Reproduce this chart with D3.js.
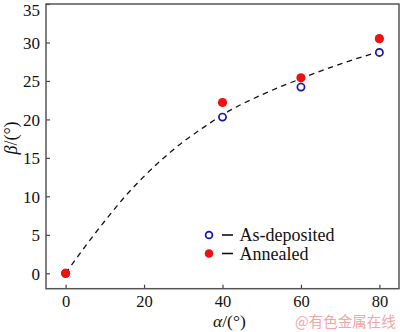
<!DOCTYPE html>
<html><head><meta charset="utf-8">
<script src="https://cdn.jsdelivr.net/npm/d3@7"></script>
<style>body{margin:0;background:#fff}svg{display:block}</style>
</head><body>
<svg id="c" width="400" height="332"></svg>
<script>
const alphaVals = [0, 40, 60, 80];
const asDeposited = [0, 20.3, 24.2, 28.7];
const annealed = [0, 22.2, 25.4, 30.5];
const curveAlpha = [0, 5, 10, 15, 20, 25, 30, 35, 40, 50, 60, 70, 80];
const curveBeta = [0, 3.5, 6.8, 9.9, 12.6, 15.0, 17.1, 18.9, 20.6, 23.2, 25.3, 27.2, 28.8];
const xTicks = [0, 20, 40, 60, 80];
const yTicks = [0, 5, 10, 15, 20, 25, 30, 35];
const seriesNames = ["As-deposited", "Annealed"];

const svg = d3.select("#c");
const L = 46, R = 399, T = 4, B = 288.7;
const x = d3.scaleLinear().domain([-5, 85]).range([L, R]);
const y = d3.scaleLinear().domain([-2, 35]).range([B, T]);
const font = "'Liberation Serif','Times New Roman',serif";

// axes with inward ticks
const xa = svg.append("g").attr("transform", `translate(0,${B})`)
  .call(d3.axisBottom(x).tickValues(xTicks).tickSize(-4).tickPadding(7).tickFormat(d3.format("d")));
const ya = svg.append("g").attr("transform", `translate(${L},0)`)
  .call(d3.axisLeft(y).tickValues(yTicks).tickSize(-4).tickPadding(6).tickFormat(d3.format("d")));
[xa, ya].forEach(g => {
  g.select(".domain").remove();
  g.selectAll(".tick line").attr("stroke", "#444").attr("stroke-width", 1.2);
  g.selectAll(".tick text").attr("font-family", font).attr("font-size", 17).attr("fill", "#111");
});
xa.selectAll(".tick text").attr("dy", "0.71em").attr("font-size", 16.5);
ya.selectAll(".tick text").attr("dy", "0.34em");
ya.selectAll(".tick").filter(d => d === 35).select("text").attr("dy", "0.68em");

// frame
svg.append("rect").attr("x", L).attr("y", T).attr("width", R - L).attr("height", B - T)
  .attr("fill", "none").attr("stroke", "#555").attr("stroke-width", 1.5);

// dashed curve
const pts = curveAlpha.map((a, i) => [a, curveBeta[i]]);
svg.append("path").datum(pts)
  .attr("d", d3.line().x(d => x(d[0])).y(d => y(d[1])).curve(d3.curveMonotoneX))
  .attr("fill", "none").attr("stroke", "#111").attr("stroke-width", 1.3).attr("stroke-dasharray", "5.5,4.5");

// markers
const blue = "#1414a8", red = "#ee1111";
svg.append("g").selectAll("circle").data(alphaVals.map((a, i) => [a, asDeposited[i]])).join("circle")
  .attr("cx", d => x(d[0])).attr("cy", d => y(d[1])).attr("r", 3.6)
  .attr("fill", "#fff").attr("stroke", blue).attr("stroke-width", 1.7);
svg.append("g").selectAll("circle").data(alphaVals.map((a, i) => [a, annealed[i]])).join("circle")
  .attr("cx", d => x(d[0])).attr("cy", d => y(d[1])).attr("r", 4.6)
  .attr("fill", red);

// legend
const lg = svg.append("g");
seriesNames.forEach((name, i) => {
  const cy = 235 + i * 18.5;
  if (i === 0) lg.append("circle").attr("cx", 209).attr("cy", cy).attr("r", 3.4)
    .attr("fill", "#fff").attr("stroke", blue).attr("stroke-width", 1.7);
  else lg.append("circle").attr("cx", 209).attr("cy", cy).attr("r", 4.3).attr("fill", red);
  lg.append("line").attr("x1", 222).attr("x2", 233).attr("y1", cy).attr("y2", cy)
    .attr("stroke", "#111").attr("stroke-width", 1.6);
  lg.append("text").attr("x", 239.5).attr("y", cy + 6).attr("font-family", font)
    .attr("font-size", 18).attr("fill", "#111").text(name);
});

// axis titles
const xt = svg.append("text").attr("x", 213).attr("y", 327).attr("font-family", font)
  .attr("font-size", 17.5).attr("fill", "#111");
xt.append("tspan").attr("font-style", "italic").text("α");
xt.append("tspan").text("/(°)");
const yt = svg.append("text").attr("transform", "translate(17,138) rotate(-90)")
  .attr("text-anchor", "middle").attr("font-family", font).attr("font-size", 18).attr("fill", "#111");
yt.append("tspan").attr("font-style", "italic").text("β");
yt.append("tspan").text("/(°)");

// watermark
svg.append("text").attr("x", 295).attr("y", 327).attr("font-family", "'Noto Sans CJK SC',sans-serif")
  .attr("font-size", 14.5).attr("fill", "#f2a6a6").text("@有色金属在线");
</script>
</body></html>
